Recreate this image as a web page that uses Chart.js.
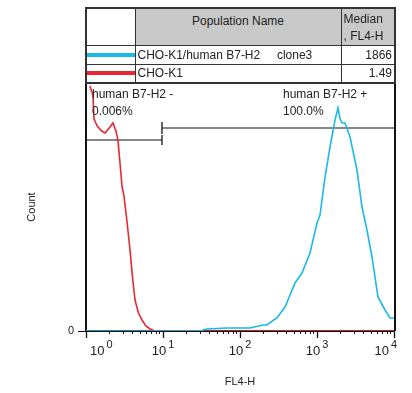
<!DOCTYPE html>
<html>
<head>
<meta charset="utf-8">
<script src="https://cdn.jsdelivr.net/npm/chart.js@4.4.0/dist/chart.umd.min.js"></script>
<style>
body { margin: 0; background: #fff; font-family: "Liberation Sans", Arial, sans-serif; }
#wrap { position: relative; width: 412px; height: 393px; }
#c { position: absolute; left: 0; top: 0; }
table { position: absolute; left: 85px; top: 7px; width: 309px; height: 73px; border-collapse: collapse;
        table-layout: fixed; font-size: 12px; color: #222; border: 2px solid #333; }
td { border: 1px solid #333; padding: 0 2px; white-space: nowrap; overflow: hidden; }
td.hd { background: #c9c9c9; vertical-align: top; padding-top: 5px; }
td.num { text-align: right; }
td.sw { padding: 0; }
.line { height: 4px; width: 100%; }
</style>
</head>
<body>
<div id="wrap">
  <canvas id="c" width="412" height="393"></canvas>
  <table>
    <colgroup><col style="width:49px"><col style="width:206px"><col style="width:54px"></colgroup>
    <tr style="height:36px"><td></td><td class="hd" style="text-align:center">Population Name</td><td class="hd" style="line-height:17px;padding-top:2px">Median<br>, FL4-H</td></tr>
    <tr style="height:19px"><td class="sw"><div class="line" style="background:#1cb8ea"></div></td><td>CHO-K1/human B7-H2&nbsp;&nbsp;&nbsp;&nbsp;&nbsp;clone3</td><td class="num">1866</td></tr>
    <tr style="height:18px"><td class="sw"><div class="line" style="background:#e8282e"></div></td><td>CHO-K1</td><td class="num">1.49</td></tr>
  </table>
</div>
<script>
// histogram traces (FL4-H, count)
const redX  = [1.12, 1.23, 1.27, 1.4, 1.6, 1.77, 2.0, 2.24, 2.45, 2.6, 2.75, 2.94, 3.1, 3.4, 3.73, 4.0, 4.33, 4.8, 5.34, 6.0, 6.78, 7.87, 10000];
const redY  = [245, 236, 212, 205, 200, 198, 203, 208, 200, 191, 170, 144, 136, 110, 81, 55, 31, 18, 11, 5, 2, 0, 0];
const cyanX = [1, 30, 37, 68, 135, 199, 224, 285, 302, 384, 420, 518, 638, 811, 1000, 1094, 1271, 1475, 1713, 1874, 2000, 2113, 2311, 2685, 3305, 3839, 4458, 5177, 6197, 7640, 8875, 10000];
const cyanY = [0, 0, 2, 3, 3, 6, 6, 12, 13, 24, 31, 48, 58, 78, 108, 116, 154, 184, 211, 223, 212, 208, 208, 194, 161, 124, 101, 74, 34, 21, 13, 13];

// gates
const gateNegX = [1, 9.7];
const gateNegY = 191;
const gatePosX = [9.7, 10000];
const gatePosY = 203;
const gateText = ["human B7-H2 -", "0.006%", "human B7-H2 +", "100.0%"];

const xTicks = [1, 10, 100, 1000, 10000];
const xTickExp = ["0", "1", "2", "3", "4"];
const yTicks = [0];

const pts = (xs, ys) => xs.map((x, i) => ({ x: x, y: Array.isArray(ys) ? ys[i] : ys }));
const FONT = "'Liberation Sans', Arial, sans-serif";

const extras = {
  id: "extras",
  afterDraw(chart) {
    const { ctx, chartArea: a, scales } = chart;
    const xs = scales.x;
    ctx.save();
    // top + right frame
    ctx.strokeStyle = "#111";
    ctx.lineWidth = 2;
    ctx.beginPath();
    ctx.moveTo(a.left, a.top);
    ctx.lineTo(a.right + 1, a.top);
    ctx.lineTo(a.right + 1, a.bottom);
    ctx.stroke();
    // minor ticks
    ctx.lineWidth = 1;
    ctx.beginPath();
    for (let k = 0; k < 4; k++) {
      for (let m = 2; m <= 9; m++) {
        const px = Math.round(xs.getPixelForValue(m * Math.pow(10, k))) + 0.5;
        ctx.moveTo(px, a.bottom);
        ctx.lineTo(px, a.bottom + 3);
      }
    }
    ctx.stroke();
    // decade labels: "10" with raised exponent
    ctx.fillStyle = "#222";
    ctx.textBaseline = "alphabetic";
    xTicks.forEach((v, i) => {
      const px = xs.getPixelForValue(v);
      ctx.font = "13px " + FONT;
      const wb = ctx.measureText("10").width;
      ctx.font = "11px " + FONT;
      const we = ctx.measureText(xTickExp[i]).width + 2;
      const w = wb + we;
      let left = px - w / 2;
      if (i === 0) left = px + 4;
      if (i === xTicks.length - 1) left = px + 3 - w;
      ctx.font = "13px " + FONT;
      ctx.fillText("10", left, a.bottom + 24);
      ctx.font = "11px " + FONT;
      ctx.fillText(xTickExp[i], left + wb + 2, a.bottom + 17);
    });
    // gate labels
    ctx.font = "12px " + FONT;
    ctx.textBaseline = "middle";
    ctx.fillText(gateText[0], a.left + 6, a.top + 12);
    ctx.fillText(gateText[1], a.left + 6, a.top + 29);
    ctx.fillText(gateText[2], a.left + 197, a.top + 12);
    ctx.fillText(gateText[3], a.left + 197, a.top + 29);
    ctx.restore();
  }
};

new Chart(document.getElementById("c"), {
  type: "line",
  data: {
    datasets: [
      { data: pts(cyanX, cyanY), borderColor: "#1cb8ea", borderWidth: 1.6, pointRadius: 0, tension: 0 },
      { data: pts(redX, redY), borderColor: "#e8282e", borderWidth: 1.6, pointRadius: 0, tension: 0 },
      { data: pts(gateNegX, gateNegY), borderColor: "#111", borderWidth: 1.2, pointStyle: "line", rotation: 90,
        pointRadius: [0, 5], pointBorderColor: "#111", pointBorderWidth: 1.3, pointHoverRadius: 0 },
      { data: pts(gatePosX, gatePosY), borderColor: "#111", borderWidth: 1.2, pointStyle: "line", rotation: 90,
        pointRadius: [6, 0], pointBorderColor: "#111", pointBorderWidth: 1.3, pointHoverRadius: 0 }
    ]
  },
  options: {
    responsive: false,
    animation: false,
    devicePixelRatio: 1,
    layout: { padding: { left: 21, right: 18, top: 83, bottom: 0 } },
    plugins: { legend: { display: false }, tooltip: { enabled: false } },
    scales: {
      x: {
        type: "logarithmic", min: 1, max: 10000,
        afterBuildTicks: s => { s.ticks = xTicks.map(v => ({ value: v })); },
        afterFit: s => { s.height = 62; },
        ticks: { display: false, autoSkip: false, maxRotation: 0 },
        grid: { drawOnChartArea: false, tickLength: 7, tickColor: "#111", tickWidth: 1.3 },
        border: { color: "#111", width: 2 },
        title: { display: true, text: "FL4-H", color: "#222", font: { family: FONT, size: 11 }, padding: { top: 4, bottom: 4 } }
      },
      y: {
        min: 0, max: 248,
        afterBuildTicks: s => { s.ticks = yTicks.map(v => ({ value: v })); },
        afterFit: s => { s.width = 65; },
        ticks: { color: "#222", font: { family: FONT, size: 11 }, padding: 4, callback: v => String(v) },
        grid: { drawOnChartArea: false, tickLength: 8, tickColor: "#111", tickWidth: 1 },
        border: { color: "#111", width: 2 },
        title: { display: true, text: "Count", color: "#222", font: { family: FONT, size: 11 }, padding: { top: 4, bottom: 4 } }
      }
    }
  },
  plugins: [extras]
});
</script>
</body>
</html>
